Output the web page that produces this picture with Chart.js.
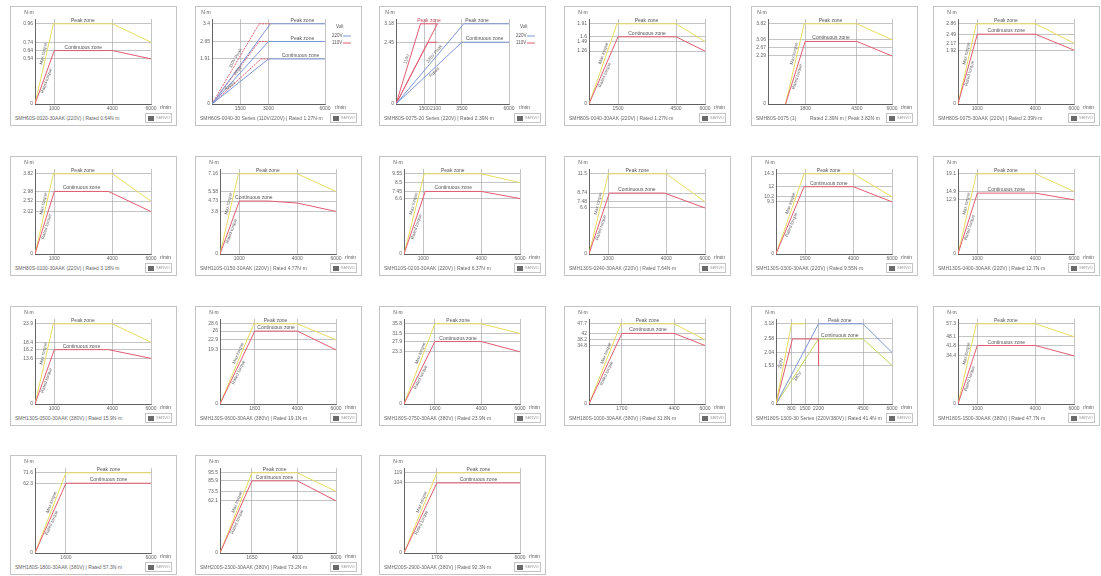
<!DOCTYPE html>
<html><head><meta charset="utf-8">
<script src="https://cdn.jsdelivr.net/npm/chart.js@4.4.1/dist/chart.umd.min.js"></script>
<style>
html,body{margin:0;padding:0;background:#fff;width:1101px;height:576px;overflow:hidden;font-family:Arial,"Liberation Sans",sans-serif;}
.panel{position:absolute;width:165px;height:118px;border:1px solid #c4c4c4;background:#fff;}
.panel canvas{position:absolute;left:0;top:0;}
.cap{position:absolute;left:4px;top:108px;font-size:5px;color:#666;white-space:nowrap;line-height:6px;}
.cap2{position:absolute;left:58px;top:108px;font-size:5px;color:#666;white-space:nowrap;line-height:6px;}
.logo{position:absolute;right:4px;top:106px;width:25px;height:8px;border:1px solid #c4c4c4;font-size:4px;color:#999;line-height:8px;white-space:nowrap;overflow:hidden;}
.logo b{display:inline-block;width:6px;height:5px;background:#6a6a6a;margin:1px 2px 0 2px;vertical-align:top;margin-top:1.5px}
</style></head>
<body>
<script>
// ---------------- data ----------------
const panelCaptions = [
  "SMH60S-0020-30AAK (220V)  |  Rated 0.64N·m",
  "SMH60S-0040-30 Series (110V/220V)  |  Rated 1.27N·m",
  "SMH80S-0075-20 Series (220V)  |  Rated 2.39N·m",
  "SMH80S-0040-30AAK (220V)  |  Rated 1.27N·m",
  "SMH80S-0075 (1)",
  "SMH80S-0075-30AAK (220V)  |  Rated 2.39N·m",
  "SMH80S-0100-30AAK (220V)  |  Rated 3.18N·m",
  "SMH110S-0150-30AAK (220V)  |  Rated 4.77N·m",
  "SMH110S-0200-30AAK (220V)  |  Rated 6.37N·m",
  "SMH130S-0240-30AAK (220V)  |  Rated 7.64N·m",
  "SMH130S-0300-30AAK (220V)  |  Rated 9.55N·m",
  "SMH130S-0400-30AAK (220V)  |  Rated 12.7N·m",
  "SMH130S-0500-30AAK (380V)  |  Rated 15.9N·m",
  "SMH130S-0600-30AAK (380V)  |  Rated 19.1N·m",
  "SMH180S-0750-30AAK (380V)  |  Rated 23.9N·m",
  "SMH180S-1000-30AAK (380V)  |  Rated 31.8N·m",
  "SMH180S-1300-30 Series (220V/380V)  |  Rated 41.4N·m",
  "SMH180S-1500-30AAK (380V)  |  Rated 47.7N·m",
  "SMH180S-1800-30AAK (380V)  |  Rated 57.3N·m",
  "SMH200S-2300-30AAK (380V)  |  Rated 73.2N·m",
  "SMH200S-2900-30AAK (380V)  |  Rated 92.3N·m"
];
const panel5Rated = "Rated 2.39N·m  |  Peak 3.82N·m";

const speedTicks = [
  [1000,4000,6000],[1500,3000,6000],[1500,2100,3500,6000],[1500,4500,6000],[1800,4300,6000],[1000,4000,6000],
  [1000,4000,6000],[1000,4000,6000],[1000,4000,6000],[1000,4000,6000],[1500,4000,6000],[1000,4000,6000],
  [1000,4000,6000],[1800,4000,6000],[1600,4000,6000],[1700,4400,6000],[800,1500,2200,4500,6000],[1000,4000,6000],
  [1600,6000],[1650,4000,6000],[1700,6000]
];
const torqueTicks = [
  [0.54,0.64,0.74,0.96],[1.91,2.65,3.40],[2.45,3.18],[1.26,1.49,1.60,1.91],[2.29,2.67,3.06,3.82],[1.92,2.17,2.49,2.86],
  [2.02,2.52,2.98,3.82],[3.80,4.73,5.58,7.16],[6.60,7.45,8.50,9.55],[6.60,7.48,8.74,11.5],[9.30,10.2,12.0,14.3],[12.9,14.9,19.1],
  [13.6,16.2,18.4,23.9],[19.3,22.9,26.0,28.6],[23.3,27.9,31.5,35.8],[34.8,38.2,42.0,47.7],[1.53,2.04,2.58,3.18],[34.4,41.8,48.1,57.3],
  [62.3,71.6],[62.1,73.5,85.9,95.5],[104,119]
];
const peakCurves = [
  [[0,0],[950,0.96],[4000,0.96],[6000,0.74]], null, null,
  [[0,0],[1450,1.91],[4500,1.91],[6000,1.49]],
  [[850,0],[1750,3.82],[4300,3.82],[6000,3.06]],
  [[0,0],[950,2.86],[4000,2.86],[6000,2.17]],
  [[0,0],[950,3.82],[4000,3.82],[6000,2.52]],
  [[0,0],[950,7.16],[4000,7.16],[6000,5.58]],
  [[0,0],[1050,9.55],[4000,9.55],[6000,8.50]],
  [[0,0],[1000,11.5],[4000,11.5],[6000,7.48]],
  [[0,0],[1450,14.3],[4000,14.3],[6000,10.2]],
  [[0,0],[950,19.1],[4000,19.1],[6000,14.9]],
  [[0,0],[950,23.9],[4000,23.9],[6000,18.4]],
  [[0,0],[1750,28.6],[4000,28.6],[6000,22.9]],
  [[0,0],[1600,35.8],[4000,35.8],[6000,31.5]],
  [[0,0],[1650,47.7],[4400,47.7],[6000,38.2]],
  null,
  [[0,0],[950,57.3],[4000,57.3],[6000,48.1]],
  [[0,0],[1600,71.6],[6000,71.6]],
  [[0,0],[1650,95.5],[4000,95.5],[6000,73.5]],
  [[0,0],[1700,119],[6000,119]]
];
const contCurves = [
  [[0,0],[1000,0.64],[4000,0.64],[6000,0.54]], null, null,
  [[0,0],[1500,1.60],[4500,1.60],[6000,1.26]],
  [[850,0],[1800,2.98],[4300,2.98],[6000,2.29]],
  [[0,0],[1000,2.49],[4000,2.49],[6000,1.92]],
  [[0,0],[1000,2.98],[3800,2.98],[6000,2.02]],
  [[0,0],[1000,4.73],[2500,4.73],[4000,4.55],[6000,3.80]],
  [[0,0],[1100,7.45],[4000,7.45],[6000,6.60]],
  [[0,0],[1050,8.74],[3900,8.74],[6000,6.60]],
  [[0,0],[1450,12.0],[4000,12.0],[6000,9.30]],
  [[0,0],[1000,14.5],[4000,14.5],[6000,12.9]],
  [[0,0],[1000,16.2],[3800,16.2],[6000,13.6]],
  [[0,0],[1800,26.0],[4000,26.0],[6000,19.3]],
  [[0,0],[1600,27.9],[4000,27.9],[6000,23.3]],
  [[0,0],[1700,42.0],[4400,42.0],[6000,34.8]],
  null,
  [[0,0],[1000,41.8],[4000,41.8],[6000,34.4]],
  [[0,0],[1600,62.3],[6000,62.3]],
  [[0,0],[1650,85.9],[4000,85.9],[6000,62.1]],
  [[0,0],[1700,104],[6000,104]]
];
// special panels
const p2Blue = [[[0,0],[3100,3.40],[6000,3.40]],[[0,0],[3000,2.65],[6000,2.65]],[[0,0],[3000,1.91],[6000,1.91]]];
const p2Red  = [[[0,0],[2500,3.40],[3100,3.40]],[[0,0],[2500,2.65],[3000,2.65]],[[0,0],[2600,1.91],[3000,1.91]]];
const p3Blue = [[[0,0],[3600,3.18],[6000,3.18]],[[0,0],[3500,2.45],[6000,2.45]]];
const p3Red  = [[[0,0],[1300,3.18],[2200,3.18]],[[0,0],[2200,3.18]],[[0,0],[1700,2.45],[2200,2.45]]];
const p17Yellow = [[0,0],[800,3.18],[1500,3.18]];
const p17Red    = [[0,0],[850,2.58],[2200,2.58],[2200,1.53]];
const p17Blue   = [[0,0],[2200,3.18],[4500,3.18],[6000,2.04]];
const p17Green  = [[0,0],[2200,2.58],[4500,2.58],[6000,1.53]];

// ---------------- layout ----------------
const colLeft = [10,195,379,564,751,933];
const rowTop = [6,156,306,455];
const YEL='#e8dc62', RED='#e05d72', BLUE='#7c95d4', GRN='#bfd45e', TXT='#555';

function ds(pts,color,dash){
  return {data:pts.map(p=>({x:p[0],y:p[1]})),borderColor:color,borderWidth:1,pointRadius:0,tension:0,fill:false,borderDash:dash||[]};
}
function mkAnnot(spec){
  return {id:'annot'+Math.random(), afterDatasetsDraw(chart){
    const {ctx,chartArea:a,scales:{x,y}}=chart;
    ctx.save();
    ctx.fillStyle=TXT; ctx.font='5px Arial';
    ctx.textAlign='center'; ctx.textBaseline='alphabetic';
    ctx.fillText('N·m', a.left-6, a.top-5);
    ctx.textAlign='left'; ctx.textBaseline='middle';
    ctx.fillText('r/min', a.right+(spec.legend?10:9), a.bottom+4);
    ctx.textAlign='center'; ctx.textBaseline='alphabetic';
    spec.zones.forEach(z=>{ ctx.fillStyle=z.c||TXT; ctx.fillText(z.t, x.getPixelForValue(z.x), y.getPixelForValue(z.y)-2); });
    ctx.fillStyle='#666'; ctx.font='4.5px Arial';
    spec.rots.forEach(r=>{
      const x0=x.getPixelForValue(r.a[0]), y0=y.getPixelForValue(r.a[1]);
      const x1=x.getPixelForValue(r.b[0]), y1=y.getPixelForValue(r.b[1]);
      const ang=Math.atan2(y1-y0,x1-x0);
      const px=x0+(x1-x0)*r.f, py=y0+(y1-y0)*r.f;
      ctx.save(); ctx.translate(px,py); ctx.rotate(ang); ctx.textAlign='center'; ctx.textBaseline='middle';
      ctx.fillText(r.t,0,r.o); ctx.restore();
    });
    if(spec.legend){
      const lx=a.right+7, ly=a.top+8;
      ctx.font='4.5px Arial'; ctx.fillStyle=TXT; ctx.textAlign='left'; ctx.textBaseline='middle';
      ctx.fillText('Volt', lx+4, ly);
      [['220V',BLUE],['110V',RED]].forEach((e,k)=>{
        const yy=ly+9+k*7;
        ctx.fillStyle=TXT; ctx.fillText(e[0], lx, yy);
        ctx.strokeStyle=e[1]; ctx.lineWidth=1; ctx.beginPath(); ctx.moveTo(lx+11,yy); ctx.lineTo(lx+19,yy); ctx.stroke();
      });
    }
    ctx.restore();
  }};
}

function build(cv,i){
  const xt=speedTicks[i], yt=torqueTicks[i];
  let yW=23, padR=25, padT=12;
  let sets=[], zones=[], rots=[], legend=false;
  if(i===1){
    p2Blue.forEach(p=>sets.push(ds(p,BLUE))); p2Red.forEach(p=>sets.push(ds(p,RED,[2,1])));
    zones=[{t:'Peak zone',x:4800,y:3.40},{t:'Peak zone',x:4800,y:2.65},{t:'Continuous zone',x:4700,y:1.91}];
    rots=[{a:[0,0],b:[2500,3.40],t:'110V Peak',f:0.55,o:-3},{a:[0,0],b:[3000,2.65],t:'220V',f:0.5,o:-3},{a:[0,0],b:[3000,1.91],t:'Rated',f:0.35,o:-3}];
    legend=true; yW=15; padR=36;
  } else if(i===2){
    p3Blue.forEach(p=>sets.push(ds(p,BLUE))); p3Red.forEach(p=>sets.push(ds(p,RED)));
    zones=[{t:'Peak zone',x:1750,y:3.18,c:'#c05060'},{t:'Peak zone',x:4300,y:3.18},{t:'Continuous zone',x:4700,y:2.45}];
    rots=[{a:[0,0],b:[1300,3.18],t:'110V',f:0.55,o:-3},{a:[0,0],b:[3600,3.18],t:'220V Peak',f:0.6,o:-3},{a:[0,0],b:[3500,2.45],t:'Rated',f:0.55,o:3}];
    legend=true; yW=15; padR=36;
  } else if(i===16){
    sets=[ds(p17Yellow,YEL),ds(p17Red,RED),ds(p17Blue,BLUE),ds(p17Green,GRN)];
    zones=[{t:'Peak zone',x:3300,y:3.18},{t:'Continuous zone',x:3300,y:2.58}];
    rots=[{a:[0,0],b:[800,3.18],t:'220V',f:0.5,o:-3},{a:[0,0],b:[2200,2.58],t:'380V',f:0.45,o:3}];
  } else {
    const pk=peakCurves[i], ct=contCurves[i];
    sets=[ds(ct,RED),ds(pk,YEL)];
    zones=[{t:'Peak zone',x:(pk[1][0]+pk[2][0])/2,y:pk[1][1]},{t:'Continuous zone',x:(ct[1][0]+ct[2][0])/2,y:ct[1][1]}];
    rots=[{a:pk[0],b:pk[1],t:'Max torque',f:0.62,o:-3},{a:ct[0],b:ct[1],t:'Rated torque',f:0.45,o:3}];
    if(i===4){ yW=15; }
  }
  const yMax=Math.max(...yt)*1.06, xMax=xt[xt.length-1];
  new Chart(cv,{
    type:'line',
    data:{datasets:sets},
    options:{
      responsive:false, animation:false, events:[],
      layout:{padding:{left:1,right:padR,top:padT,bottom:0}},
      plugins:{legend:{display:false},tooltip:{enabled:false}},
      scales:{
        x:{type:'linear',min:0,max:xMax,
           afterBuildTicks:s=>{s.ticks=xt.map(v=>({value:v}));},
           afterFit:s=>{s.height=10;},
           ticks:{font:{size:5,family:'Arial'},color:'#666',maxRotation:0,minRotation:0,autoSkip:false,padding:2,callback:v=>String(v)},
           grid:{color:'#aaa',lineWidth:0.7,drawTicks:false},
           border:{color:'#555',width:0.9}},
        y:{type:'linear',min:0,max:yMax,
           afterBuildTicks:s=>{s.ticks=[0].concat(yt).map(v=>({value:v}));},
           afterFit:s=>{s.width=yW;},
           ticks:{font:{size:5,family:'Arial'},color:'#666',autoSkip:false,padding:2,callback:v=>String(v)},
           grid:{color:'#aaa',lineWidth:0.7,drawTicks:false},
           border:{color:'#555',width:0.9}}
      }
    },
    plugins:[mkAnnot({zones,rots,legend})]
  });
}

for(let i=0;i<21;i++){
  const r=Math.floor(i/6), c=i%6;
  const div=document.createElement('div'); div.className='panel';
  div.style.left=colLeft[c]+'px'; div.style.top=rowTop[r]+'px';
  const cv=document.createElement('canvas'); cv.width=165; cv.height=107;
  cv.style.width='165px'; cv.style.height='107px';
  div.appendChild(cv);
  const cap=document.createElement('div'); cap.className='cap'; cap.textContent=panelCaptions[i]; div.appendChild(cap);
  if(i===4){ const c2=document.createElement('div'); c2.className='cap2'; c2.textContent=panel5Rated; div.appendChild(c2); }
  const logo=document.createElement('div'); logo.className='logo'; logo.innerHTML='<b></b>SERVO'; div.appendChild(logo);
  document.body.appendChild(div);
  build(cv,i);
}
</script>
</body></html>
